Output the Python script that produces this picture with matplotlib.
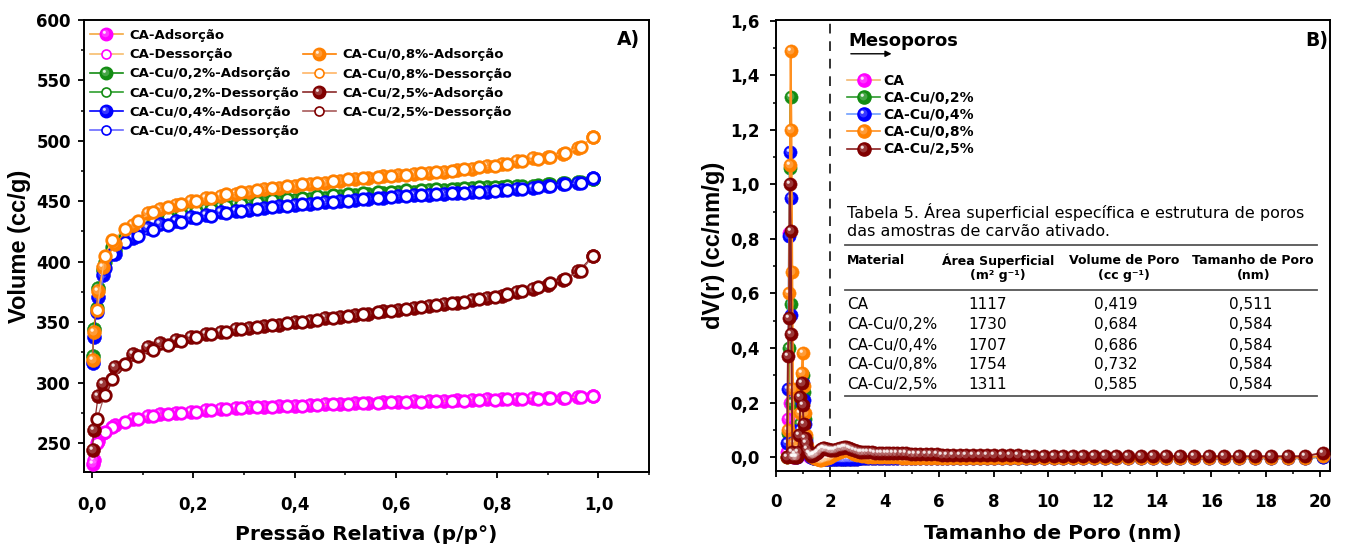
"""Isotermas de N2 (A) e distribuição de tamanho de poros (B) dos carvões ativados."""

import numpy as np
import matplotlib

matplotlib.use("Agg")
import matplotlib.pyplot as plt  # noqa: E402
from matplotlib.lines import Line2D  # noqa: E402
from matplotlib.path import Path  # noqa: E402
from matplotlib.ticker import FuncFormatter, MultipleLocator  # noqa: E402

plt.rcParams["font.family"] = ["DejaVu Sans"]

# --------------------------------------------------------------------------- #
# Dados - painel A (isotermas)                                                #
# --------------------------------------------------------------------------- #
ADS_P = [0.001, 0.003, 0.012, 0.022, 0.045, 0.08, 0.11, 0.135, 0.165, 0.195,
         0.225, 0.255, 0.285, 0.31, 0.34, 0.37, 0.40, 0.43, 0.46, 0.49,
         0.52, 0.545, 0.575, 0.605, 0.635, 0.665, 0.695, 0.72, 0.75, 0.78,
         0.81, 0.84, 0.87, 0.90, 0.93, 0.96, 0.99]
DES_P = [0.99, 0.965, 0.935, 0.905, 0.88, 0.85, 0.82, 0.795, 0.765, 0.735,
         0.71, 0.68, 0.65, 0.62, 0.59, 0.565, 0.535, 0.505, 0.475, 0.445,
         0.415, 0.385, 0.355, 0.325, 0.295, 0.265, 0.235, 0.205, 0.175, 0.15,
         0.12, 0.09, 0.065, 0.04, 0.025, 0.01]

CA_ADS = [233, 236, 252, 258, 265, 270, 272, 274, 275, 276, 277, 278, 279, 279.5,
          280, 280.5, 281, 281.5, 282, 282.5, 283, 283, 283.5, 284, 284.5, 284.5,
          285, 285.5, 285.5, 286, 286, 286.5, 287, 287, 287.5, 288, 288.5]
CA_DES = [288.5, 288, 287.5, 287, 286.5, 286, 286, 285.5, 285.5, 285, 284.5, 284.5,
          284, 284, 283.5, 283, 283, 282.5, 282, 281.5, 281, 280.5, 280, 279.5,
          279, 278, 277, 276, 275, 274, 272.5, 270, 267, 263, 259, 250]
CU02_ADS = [322, 344, 378, 393, 410, 424, 432, 436, 439, 441.5, 443.5, 445, 446.5,
            448, 449, 450, 451, 452, 453, 454, 455, 456, 457, 457.5, 458, 459,
            459.5, 460, 461, 461.5, 462, 462.5, 463, 464, 465, 466, 468]
CU02_DES = [468, 466, 465, 464, 463.5, 463, 462.5, 462, 461.5, 461, 460.5, 460,
            459.5, 459, 458, 457.5, 457, 456, 455, 454, 453, 452, 451, 449.5,
            448, 446, 444, 442, 439.5, 437, 433, 427, 421, 412, 400, 362]
CU04_ADS = [316, 338, 371, 389, 406, 420, 428, 431, 434, 437, 439, 441, 442, 443,
            444.5, 446, 447, 448, 449, 450, 451, 452, 453, 454, 455, 455.5, 456,
            457, 457.5, 458, 459, 460, 461, 462.5, 464, 465.5, 469]
CU04_DES = [469, 465.5, 464, 463, 461.5, 460.5, 459.5, 458.5, 458, 457, 456.5, 456,
            455, 454.5, 453.5, 452.5, 451.5, 450.5, 449.5, 448.5, 447.5, 446, 445,
            443.5, 442, 440, 438, 436, 433, 430, 426, 421, 416, 406, 395, 358]
CU08_ADS = [319, 342, 376, 396, 415, 430, 440, 444, 447, 450, 453, 454.5, 456, 458,
            460, 461, 463, 464, 465.5, 467, 468.5, 469.5, 470.5, 471.5, 472.5,
            473.5, 474.5, 475.5, 477, 479, 481, 483, 485.5, 487, 489.5, 494, 503]
CU08_DES = [503, 495, 490, 487, 485, 483, 481, 479.5, 478, 476.5, 475, 474, 473,
            472, 471, 470, 469, 468, 467, 465, 464, 463, 461, 459.5, 458, 456, 453,
            450.5, 448, 445, 441, 434, 427, 418, 405, 360]
CU25_ADS = [244, 261, 289, 299, 313, 324, 329, 333, 335, 338, 340, 342, 344, 345,
            347, 348, 350, 351, 353, 354, 356, 357, 359, 360, 362, 363, 365, 366,
            368, 370, 372, 375, 377, 381, 385, 392, 405]
CU25_DES = [405, 392, 386, 382, 379, 376, 373, 371, 369, 367, 365.5, 364, 362.5,
            361, 359.5, 358, 356.5, 355, 353.5, 352, 350.5, 349, 347.5, 346, 344,
            342, 340, 337.5, 334.5, 331, 327, 322, 315, 303, 290, 270]

# --------------------------------------------------------------------------- #
# Dados - painel B (PSD)                                                      #
# --------------------------------------------------------------------------- #
MICRO_X = [0.40, 0.44, 0.48, 0.51, 0.54, 0.57, 0.60, 0.63, 0.66, 0.70, 0.74, 0.78,
           0.82, 0.86, 0.90, 0.94, 0.98, 1.02, 1.06, 1.10, 1.15, 1.20, 1.25, 1.30]
MESO_X = [1.35, 1.40, 1.45, 1.50, 1.55, 1.60, 1.66, 1.72, 1.78, 1.84, 1.90,
          1.97, 2.04, 2.11, 2.18, 2.26, 2.34, 2.42, 2.50, 2.59, 2.68, 2.77, 2.87, 2.97,
          3.07, 3.18, 3.29, 3.40, 3.52, 3.64, 3.77, 3.90,
          4.03, 4.17, 4.31, 4.46, 4.62, 4.78, 4.95,
          5.12, 5.30, 5.50, 5.70, 5.90, 6.10, 6.30, 6.50, 6.75,
          7.00, 7.25, 7.50, 7.75, 8.00, 8.30, 8.60, 8.90, 9.20, 9.50, 9.85,
          10.20, 10.55, 10.90, 11.30, 11.70, 12.10, 12.50, 12.95, 13.40, 13.85,
          14.35, 14.85, 15.35, 15.90, 16.45, 17.00, 17.60, 18.20, 18.80, 19.45, 20.10]

CA_MICRO = [0.02, 0.14, 0.82, 0.20, 0.08, 0.03, 0.01, 0.0, 0.0, 0.0, 0.0, 0.0,
            0.01, 0.02, 0.04, 0.05, 0.05, 0.04, 0.03, 0.02, 0.01, 0.005, 0.0, 0.0]
CU02_MICRO = [0.0, 0.09, 0.40, 1.06, 1.32, 0.56, 0.20, 0.06, 0.02, 0.01, 0.0, 0.01,
              0.02, 0.06, 0.12, 0.22, 0.30, 0.24, 0.14, 0.07, 0.03, 0.015, 0.01, 0.0]
CU04_MICRO = [0.05, 0.25, 0.81, 1.12, 0.95, 0.52, 0.10, 0.03, 0.01, 0.0, 0.0, 0.0,
              0.01, 0.04, 0.10, 0.20, 0.27, 0.21, 0.12, 0.06, 0.03, 0.01, 0.005, 0.0]
CU08_MICRO = [0.0, 0.10, 0.60, 1.07, 1.49, 1.20, 0.68, 0.25, 0.05, 0.01, 0.0, 0.01,
              0.03, 0.08, 0.16, 0.31, 0.38, 0.26, 0.16, 0.08, 0.04, 0.02, 0.01, 0.005]
CU25_MICRO = [0.0, 0.37, 0.51, 1.00, 0.83, 0.45, 0.02, 0.0, 0.0, 0.01, 0.0, 0.0,
              0.02, 0.08, 0.22, 0.27, 0.19, 0.12, 0.07, 0.05, 0.03, 0.015, 0.01, 0.005]

LOW_MESO = [-0.002, -0.003, -0.004, -0.005, -0.006, -0.007, -0.008, -0.008, -0.008, -0.008, -0.008,
            -0.008, -0.008, -0.008, -0.008, -0.008, -0.007, -0.007, -0.007, -0.007, -0.006, -0.006,
            -0.006, -0.006, -0.005, -0.005, -0.005, -0.005, -0.005, -0.005, -0.005, -0.005,
            -0.004, -0.004, -0.004, -0.004, -0.004, -0.004, -0.004,
            -0.004, -0.004, -0.004, -0.004, -0.004, -0.004, -0.004, -0.004, -0.004,
            -0.004, -0.004, -0.004, -0.004, -0.004, -0.004, -0.004, -0.004, -0.004, -0.004, -0.004,
            -0.004, -0.004, -0.004, -0.004, -0.004, -0.004, -0.004, -0.004, -0.004, -0.004,
            -0.004, -0.004, -0.004, -0.004, -0.004, -0.004, -0.004, -0.004, -0.004, -0.004, 0.002]
CU08_MESO = [0.0, -0.002, -0.004, -0.006, -0.008, -0.010, -0.010, -0.008, -0.006, -0.004, -0.002,
             0.0, 0.004, 0.008, 0.012, 0.016, 0.020, 0.024, 0.027, 0.028, 0.024, 0.018,
             0.012, 0.008, 0.006, 0.004, 0.003, 0.002, 0.001, 0.0, 0.0, 0.0,
             -0.001, -0.001, -0.001, -0.001, -0.002, -0.002, -0.002,
             -0.002, -0.002, -0.002, -0.002, -0.002, -0.002, -0.002, -0.002, -0.002,
             -0.002, -0.002, -0.002, -0.002, -0.002, -0.002, -0.002, -0.002, -0.002, -0.002, -0.002,
             -0.002, -0.002, -0.002, -0.002, -0.002, -0.002, -0.002, -0.002, -0.002, -0.002,
             -0.002, -0.002, -0.002, -0.002, -0.002, -0.002, -0.002, -0.002, -0.002, -0.002, 0.004]
CU25_MESO = [0.006, 0.009, 0.012, 0.016, 0.020, 0.025, 0.030, 0.034, 0.034, 0.031, 0.028,
             0.026, 0.025, 0.025, 0.027, 0.030, 0.033, 0.035, 0.037, 0.037, 0.034, 0.029,
             0.025, 0.022, 0.020, 0.019, 0.018, 0.017, 0.017, 0.016, 0.016, 0.015,
             0.015, 0.015, 0.015, 0.016, 0.015, 0.014, 0.013,
             0.012, 0.012, 0.011, 0.010, 0.010, 0.009, 0.009, 0.008, 0.008,
             0.008, 0.007, 0.007, 0.007, 0.006, 0.006, 0.006, 0.006, 0.005, 0.005, 0.005,
             0.005, 0.005, 0.004, 0.004, 0.004, 0.004, 0.004, 0.004, 0.004, 0.004,
             0.004, 0.003, 0.003, 0.003, 0.003, 0.003, 0.003, 0.003, 0.003, 0.003, 0.016]

# Tabela 5
TAB_MATERIAL = ["CA", "CA-Cu/0,2%", "CA-Cu/0,4%", "CA-Cu/0,8%", "CA-Cu/2,5%"]
TAB_AREA = ["1117", "1730", "1707", "1754", "1311"]
TAB_VOLUME = ["0,419", "0,684", "0,686", "0,732", "0,585"]
TAB_TAMANHO = ["0,511", "0,584", "0,584", "0,584", "0,584"]

# --------------------------------------------------------------------------- #
# Estilo                                                                      #
# --------------------------------------------------------------------------- #
MAG, GRN, BLU, ORG, RED = "#FF00FF", "#138C13", "#0000FF", "#FF8000", "#800000"
LINE_ADS = {"CA": "#F4A840", "CU02": "#138C13", "CU04": "#0000FF", "CU08": "#FF8000", "CU25": "#8B2A2A"}
LINE_DES = {"CA": "#F7BE6E", "CU02": "#2FA02F", "CU04": "#6A6AFF", "CU08": "#FFB566", "CU25": "#A85A5A"}
LINE_PSD = {"CA": "#F4B870", "CU02": "#2E9A2E", "CU04": "#6FA0FF", "CU08": "#FF9020", "CU25": "#8B2020"}


def _spot(cx, cy, r):
    """Marker path: small disc off-centre; the two MOVETOs pin the unit box."""
    c = Path.circle((cx, cy), r)
    verts = np.vstack([[0.5, 0.5], [-0.5, -0.5], c.vertices])
    codes = np.concatenate([[Path.MOVETO, Path.MOVETO], c.codes])
    return Path(verts, codes)


GLOW = _spot(-0.08, 0.08, 0.30)
SHINE = _spot(-0.17, 0.17, 0.12)


def ball_series(ax, x, y, face, line, ms, lw, z):
    ax.plot(x, y, color=line, lw=lw, zorder=z)
    ax.plot(x, y, ls="none", marker="o", ms=ms, mfc=face, mec=face, mew=0.4, zorder=z + 0.1)
    ax.plot(x, y, ls="none", marker=GLOW, ms=ms, mfc="white", mec="none", alpha=0.22, zorder=z + 0.2)
    ax.plot(x, y, ls="none", marker=SHINE, ms=ms, mfc="white", mec="none", alpha=0.85, zorder=z + 0.3)


def ring_series(ax, x, y, edge, line, ms, lw, z):
    ax.plot(x, y, color=line, lw=lw, zorder=z)
    ax.plot(x, y, ls="none", marker="o", ms=ms, mfc="white", mec=edge, mew=2.0, zorder=z + 0.1)


def ball_handle(face, line, ms):
    return (Line2D([], [], color=line, lw=1.2, marker="o", ms=ms, mfc=face, mec=face),
            Line2D([], [], ls="none", marker=GLOW, ms=ms, mfc="white", mec="none", alpha=0.22),
            Line2D([], [], ls="none", marker=SHINE, ms=ms, mfc="white", mec="none", alpha=0.85))


def ring_handle(edge, line, ms):
    return Line2D([], [], color=line, lw=1.2, marker="o", ms=ms, mfc="white", mec=edge, mew=1.2)


def comma(fmt):
    return FuncFormatter(lambda v, _: fmt.format(v).replace(".", ","))


def style_axes(ax):
    for s in ax.spines.values():
        s.set_linewidth(1.4)
    ax.tick_params(which="major", direction="out", length=4.5, width=1.3,
                   labelsize=12, top=False, right=False)
    ax.tick_params(which="minor", direction="out", length=2.5, width=1.1, top=False, right=False)
    for t in ax.get_xticklabels() + ax.get_yticklabels():
        t.set_fontweight("bold")


# --------------------------------------------------------------------------- #
# Figura                                                                      #
# --------------------------------------------------------------------------- #
fig = plt.figure(figsize=(13.46, 5.44), dpi=100)
axA = fig.add_axes([0.0624, 0.1324, 0.4198, 0.8309])
axB = fig.add_axes([0.5765, 0.1342, 0.4116, 0.8291])

# ---- painel A
series_A = [("CA", MAG, CA_ADS, CA_DES), ("CU02", GRN, CU02_ADS, CU02_DES),
            ("CU04", BLU, CU04_ADS, CU04_DES), ("CU08", ORG, CU08_ADS, CU08_DES),
            ("CU25", RED, CU25_ADS, CU25_DES)]
z = 3
for key, col, ads, des in series_A:
    ball_series(axA, ADS_P, ads, col, LINE_ADS[key], 10, 0.9, z)
    ring_series(axA, DES_P, des, col, LINE_DES[key], 8.3, 0.9, z + 0.5)
    z += 1

axA.set_xlim(-0.016, 1.1)
axA.set_ylim(226, 600)
axA.xaxis.set_major_locator(MultipleLocator(0.2))
axA.xaxis.set_minor_locator(MultipleLocator(0.1))
axA.yaxis.set_major_locator(MultipleLocator(50))
axA.yaxis.set_minor_locator(MultipleLocator(25))
axA.xaxis.set_major_formatter(comma("{:.1f}"))
axA.yaxis.set_major_formatter(comma("{:.0f}"))
style_axes(axA)
axA.tick_params(axis="x", pad=12.5)
axA.tick_params(axis="y", pad=5)
axA.set_xlabel("Pressão Relativa (p/p°)", fontsize=14.5, fontweight="bold", labelpad=8)
axA.set_ylabel("Volume (cc/g)", fontsize=17, fontweight="bold", family="Liberation Sans", labelpad=4)
axA.text(1.083, 583.5, "A)", ha="right", va="center", fontsize=13.5, fontweight="bold")

labels1 = ["CA-Adsorção", "CA-Dessorção", "CA-Cu/0,2%-Adsorção", "CA-Cu/0,2%-Dessorção",
           "CA-Cu/0,4%-Adsorção", "CA-Cu/0,4%-Dessorção"]
handles1 = [ball_handle(MAG, LINE_ADS["CA"], 9), ring_handle(MAG, LINE_DES["CA"], 6.5),
            ball_handle(GRN, LINE_ADS["CU02"], 9), ring_handle(GRN, LINE_DES["CU02"], 6.5),
            ball_handle(BLU, LINE_ADS["CU04"], 9), ring_handle(BLU, LINE_DES["CU04"], 6.5)]
labels2 = ["CA-Cu/0,8%-Adsorção", "CA-Cu/0,8%-Dessorção", "CA-Cu/2,5%-Adsorção", "CA-Cu/2,5%-Dessorção"]
handles2 = [ball_handle(ORG, LINE_ADS["CU08"], 9), ring_handle(ORG, LINE_DES["CU08"], 6.5),
            ball_handle(RED, LINE_ADS["CU25"], 9), ring_handle(RED, LINE_DES["CU25"], 6.5)]
leg_kw = dict(frameon=False, numpoints=1, borderpad=0, borderaxespad=0, handlelength=2.5,
              handletextpad=0.45, labelspacing=0.47, loc="upper left",
              prop={"size": 9.5, "weight": "bold"})
legA1 = axA.legend(handles1, labels1, bbox_to_anchor=(0.0106, 0.980), **leg_kw)
axA.add_artist(legA1)
axA.legend(handles2, labels2, bbox_to_anchor=(0.3876, 0.937), **leg_kw)

# ---- painel B
psd_x = MICRO_X + MESO_X
series_B = [("CA", MAG, CA_MICRO + LOW_MESO), ("CU02", GRN, CU02_MICRO + LOW_MESO),
            ("CU04", BLU, CU04_MICRO + LOW_MESO), ("CU08", ORG, CU08_MICRO + CU08_MESO),
            ("CU25", RED, CU25_MICRO + CU25_MESO)]
z = 3
for key, col, vals in series_B:
    ball_series(axB, psd_x, vals, col, LINE_PSD[key], 9.5, 1.4, z)
    z += 1

axB.axvline(2, color="#333333", lw=1.4, ls=(0, (5, 4)), zorder=2)
axB.set_xlim(0, 20.36)
axB.set_ylim(-0.051, 1.603)
axB.xaxis.set_major_locator(MultipleLocator(2))
axB.xaxis.set_minor_locator(MultipleLocator(1))
axB.yaxis.set_major_locator(MultipleLocator(0.2))
axB.yaxis.set_minor_locator(MultipleLocator(0.1))
axB.xaxis.set_major_formatter(comma("{:.0f}"))
axB.yaxis.set_major_formatter(comma("{:.1f}"))
style_axes(axB)
axB.tick_params(axis="x", pad=11)
axB.tick_params(axis="y", pad=7.5)
axB.set_xlabel("Tamanho de Poro (nm)", fontsize=14.5, fontweight="bold", labelpad=9.5)
axB.set_ylabel("dV(r) (cc/nm/g)", fontsize=17, fontweight="bold", family="Liberation Sans", labelpad=3.5)
axB.text(20.3, 1.527, "B)", ha="right", va="center", fontsize=13.5, fontweight="bold")
axB.text(2.65, 1.527, "Mesoporos", ha="left", va="center", fontsize=13, fontweight="bold")
axB.annotate("", xy=(4.35, 1.479), xytext=(2.65, 1.479),
             arrowprops=dict(arrowstyle="-|>", color="black", lw=1.0, mutation_scale=9))

labelsB = ["CA", "CA-Cu/0,2%", "CA-Cu/0,4%", "CA-Cu/0,8%", "CA-Cu/2,5%"]
handlesB = [ball_handle(MAG, LINE_PSD["CA"], 9.5), ball_handle(GRN, LINE_PSD["CU02"], 9.5),
            ball_handle(BLU, LINE_PSD["CU04"], 9.5), ball_handle(ORG, LINE_PSD["CU08"], 9.5),
            ball_handle(RED, LINE_PSD["CU25"], 9.5)]
axB.legend(handlesB, labelsB, frameon=False, numpoints=1, borderpad=0, borderaxespad=0,
           handlelength=2.4, handletextpad=0.25, labelspacing=0.23, loc="upper left",
           bbox_to_anchor=(0.128, 0.881), prop={"size": 10, "weight": "bold"})

# ---- tabela 5 (dentro do painel B, em coordenadas de dados)
axB.text(2.61, 0.897, "Tabela 5. Área superficial específica e estrutura de poros",
         ha="left", va="center", fontsize=11.5)
axB.text(2.61, 0.828, "das amostras de carvão ativado.", ha="left", va="center", fontsize=11.5)
for yr in (0.776, 0.611, 0.223):
    axB.plot([2.54, 19.89], [yr, yr], color="#555555", lw=1.3, zorder=2)
hdr_kw = dict(va="center", fontsize=9, fontweight="bold")
axB.text(2.61, 0.721, "Material", ha="left", **hdr_kw)
axB.text(8.16, 0.721, "Área Superficial", ha="center", **hdr_kw)
axB.text(8.16, 0.666, "(m² g⁻¹)", ha="center", **hdr_kw)
axB.text(12.79, 0.721, "Volume de Poro", ha="center", **hdr_kw)
axB.text(12.79, 0.666, "(cc g⁻¹)", ha="center", **hdr_kw)
axB.text(17.54, 0.721, "Tamanho de Poro", ha="center", **hdr_kw)
axB.text(17.54, 0.666, "(nm)", ha="center", **hdr_kw)
row_y = [0.560, 0.487, 0.410, 0.341, 0.267]
for yr, mat, area, vol, tam in zip(row_y, TAB_MATERIAL, TAB_AREA, TAB_VOLUME, TAB_TAMANHO):
    axB.text(2.61, yr, mat, ha="left", va="center", fontsize=11)
    axB.text(7.76, yr, area, ha="center", va="center", fontsize=11)
    axB.text(12.5, yr, vol, ha="center", va="center", fontsize=11)
    axB.text(17.43, yr, tam, ha="center", va="center", fontsize=11)

fig.savefig("out.png", dpi=100)
